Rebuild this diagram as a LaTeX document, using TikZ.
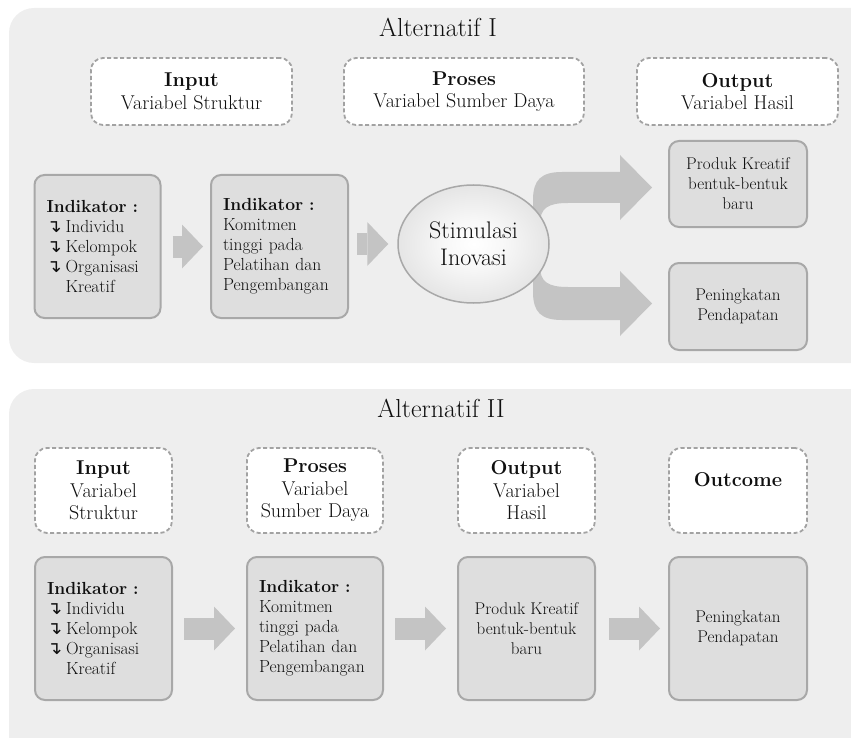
\documentclass[tikz,border=0pt]{standalone}
\usepackage{fontspec}
\newfontfamily\symfont{DejaVu Sans}
\usetikzlibrary{arrows.meta,shapes.geometric}
\definecolor{panelbg}{RGB}{238,238,238}
\definecolor{boxfill}{RGB}{222,222,222}
\definecolor{boxline}{RGB}{168,168,168}
\definecolor{dashline}{RGB}{162,162,162}
\definecolor{arrowgray}{RGB}{196,196,196}
\definecolor{textc}{RGB}{15,15,15}
\pgfdeclareradialshading{ellshade}{\pgfpoint{0bp}{0bp}}{color(0bp)=(white);color(10bp)=(white!97!black);color(35bp)=(black!15);color(50bp)=(black!21)}
\def\hookbul{{\symfont\fontsize{18}{18}\selectfont\raisebox{-0.5pt}{↴}}\hspace{4pt}}

\tikzset{
	panel/.style={fill=panelbg, rounded corners=25pt},
	title/.style={font=\fontsize{26}{30}\selectfont, anchor=base, text=textc},
	dashbox/.style={draw=dashline, fill=white, line width=1.8pt, dash pattern=on 4pt off 2.5pt, rounded corners=12pt, align=center, inner sep=0pt, text=textc, font=\fontsize{20}{22.5}\selectfont},
	graybox/.style={draw=boxline, fill=boxfill, line width=2pt, rounded corners=10pt, inner sep=0pt, text=textc, font=\fontsize{17.5}{20}\selectfont},
	leftbox/.style={graybox, align=left, inner xsep=12pt, minimum height=#1},
	fatarrow/.style={draw=arrowgray, line width=22pt, -{Triangle[length=21pt,width=44pt,line width=0pt]}},
}

\begin{document}
\begin{tikzpicture}[x=1pt, y=-1pt]
		\useasboundingbox (0,0) rectangle (851,738);
		%%%%% ALTERNATIF I %%%%%
		\fill[panel] (9,8) rectangle (890,363);
		\node[title] (alt1) at (438,37) {Alternatif I};
		
		\node[dashbox, minimum width=201pt, minimum height=67pt] (in1) at (191.5,91.5) {\textbf{Input}\\Variabel Struktur};
		\node[dashbox, minimum width=240pt, minimum height=67pt] (pro1) at (464,91.5) {\textbf{Proses}\\Variabel Sumber Daya};
		\node[dashbox, minimum width=201pt, minimum height=67pt] (out1) at (737.5,91.5) {\textbf{Output}\\Variabel Hasil};
		
		\node[leftbox=143pt, text width=102pt] (ind1) at (97.5,246.5) {\textbf{Indikator :}\\\hookbul Individu\\\hookbul Kelompok\\\hookbul Organisasi\\\phantom{\hookbul}Kreatif};
		\node[leftbox=143pt, text width=113pt] (kom1) at (279.5,246.5) {\textbf{Indikator :}\\Komitmen\\tinggi pada\\Pelatihan dan\\Pengembangan};
		
		% forked arrow behind the ellipse
		\fill[arrowgray] (533,262) -- (533,200) .. controls (533,180) and (541,172) .. (562,172) -- (620,172) -- (620,155) -- (652,187.5) -- (620,220) -- (620,203) -- (568,203) .. controls (548,203) and (540,208) .. (540,224) -- (540,262) -- cycle;
		\fill[arrowgray] (540,230) -- (540,266) .. controls (540,282) and (548,287) .. (568,287) -- (620,287) -- (620,271) -- (652,303.5) -- (620,336) -- (620,320) -- (562,320) .. controls (541,320) and (533,312) .. (533,292) -- (533,230) -- cycle;
		
		\node[ellipse, draw=boxline, line width=1.5pt, shading=ellshade, minimum width=151pt, minimum height=118pt, align=center, text=textc, font=\fontsize{24}{27}\selectfont] (stim) at (473.5,244) {Stimulasi\\Inovasi};
		
		\node[graybox, minimum width=138pt, minimum height=86pt, align=center, font=\fontsize{17}{20}\selectfont] (prod1) at (738,184) {Produk Kreatif\\bentuk-bentuk\\baru};
		\node[graybox, minimum width=138pt, minimum height=87pt, align=center, font=\fontsize{17}{20}\selectfont] (pend1) at (738,306.5) {Peningkatan\\Pendapatan};
		
		\draw[fatarrow, shorten <=11pt, shorten >=7pt] (ind1) -- (kom1);
		\draw[fatarrow, shorten <=8pt, shorten >=9pt] (kom1.east |- stim) -- (stim);
		
		%%%%% ALTERNATIF II %%%%%
		\fill[panel] (9,389) rectangle (890,780);
		\node[title] (alt2) at (441,417) {Alternatif II};
		
		\node[dashbox, minimum width=137pt, minimum height=85pt] (in2) at (103.5,490.5) {\textbf{Input}\\Variabel\\Struktur};
		\node[dashbox, minimum width=136pt, minimum height=85pt] (pro2) at (315,490.5) {\textbf{Proses}\\Variabel\\Sumber Daya};
		\node[dashbox, minimum width=137pt, minimum height=85pt] (out2) at (526.5,490.5) {\textbf{Output}\\Variabel\\Hasil};
		\node[dashbox, minimum width=138pt, minimum height=85pt] (outc) at (738,490.5) {\textbf{Outcome}\\\mbox{}};
		
		\node[leftbox=143pt, text width=113pt] (ind2) at (103.5,628.5) {\textbf{Indikator :}\\\hookbul Individu\\\hookbul Kelompok\\\hookbul Organisasi\\\phantom{\hookbul}Kreatif};
		\node[leftbox=143pt, text width=112pt] (kom2) at (315,628.5) {\textbf{Indikator :}\\Komitmen\\tinggi pada\\Pelatihan dan\\Pengembangan};
		\node[graybox, minimum width=137pt, minimum height=143pt, align=center, font=\fontsize{17}{20}\selectfont] (prod2) at (526.5,628.5) {Produk Kreatif\\bentuk-bentuk\\baru};
		\node[graybox, minimum width=138pt, minimum height=143pt, align=center, font=\fontsize{17}{20}\selectfont] (pend2) at (738,628.5) {Peningkatan\\Pendapatan};
		
		\draw[fatarrow, shorten <=11pt, shorten >=11pt] (ind2) -- (kom2);
		\draw[fatarrow, shorten <=11pt, shorten >=11pt] (kom2) -- (prod2);
		\draw[fatarrow, shorten <=13pt, shorten >=8pt] (prod2) -- (pend2);
		%%%%% END %%%%%
\end{tikzpicture}
\end{document}
